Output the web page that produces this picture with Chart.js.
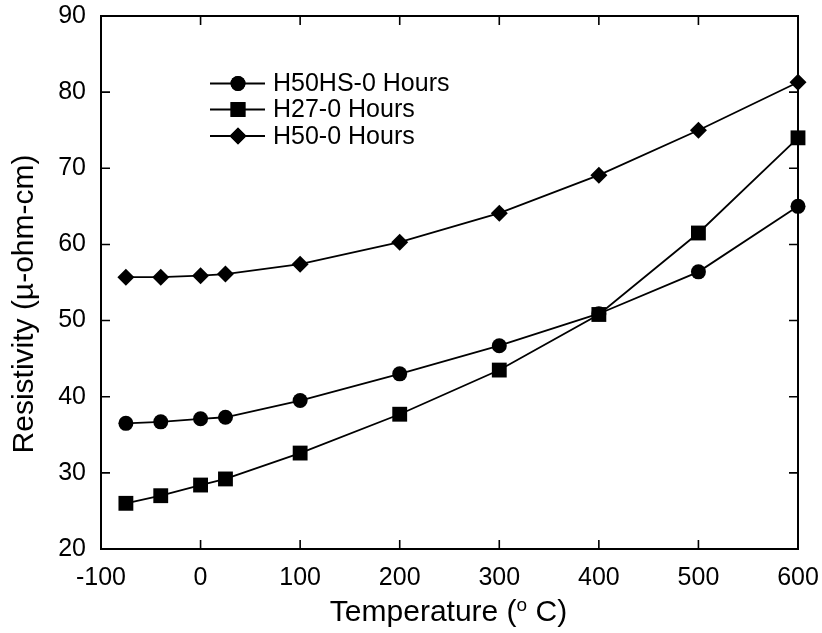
<!DOCTYPE html>
<html>
<head>
<meta charset="utf-8">
<title>Resistivity vs Temperature</title>
<script src="https://cdn.jsdelivr.net/npm/chart.js@4.4.0/dist/chart.umd.min.js"></script>
<style>
  html, body { margin: 0; padding: 0; background: #fff; }
  #wrap { width: 822px; height: 633px; position: relative; }
</style>
</head>
<body>
<div id="wrap"><canvas id="resistivity"></canvas></div>
<script>
// Temperatures (deg C) at which each sample was measured
const temperatures = [-75, -40, 0, 25, 100, 200, 300, 400, 500, 600];

// Resistivity, micro-ohm-cm
const h50hs = [36.5, 36.7, 37.1, 37.3, 39.5, 43.0, 46.7, 50.9, 56.4, 65.0];
const h27 = [26.0, 27.0, 28.4, 29.2, 32.6, 37.7, 43.5, 50.8, 61.5, 74.0];
const h50 = [55.7, 55.7, 55.9, 56.1, 57.4, 60.3, 64.1, 69.1, 75.0, 81.3];

const seriesNames = ['H50HS-0 Hours', 'H27-0 Hours', 'H50-0 Hours'];
const xTicks = [-100, 0, 100, 200, 300, 400, 500, 600];
const yTicks = [20, 30, 40, 50, 60, 70, 80, 90];

(function() {
    'use strict';

    const FONT = "'Liberation Sans', Arial, sans-serif";
    const INK = '#000';
    const TICK_LEN = 9;

    function toPoints(values) {
        return values.map((v, i) => ({ x: temperatures[i], y: v }));
    }

    function series(label, values, style, radius) {
        return {
            label: label,
            data: toPoints(values),
            borderColor: INK,
            backgroundColor: INK,
            borderWidth: 1.8,
            pointStyle: style,
            pointRadius: radius,
            pointBorderWidth: 0,
            pointBackgroundColor: INK,
            tension: 0,
            clip: false
        };
    }

    // frame on all four sides with inward tick marks
    const framePlugin = {
        id: 'frame',
        beforeDatasetsDraw(chart) {
            const { ctx, chartArea: a, scales } = chart;
            ctx.save();
            ctx.strokeStyle = INK;
            ctx.lineWidth = 2;
            ctx.strokeRect(a.left, a.top, a.right - a.left, a.bottom - a.top);
            ctx.lineWidth = 1.6;
            ctx.beginPath();
            xTicks.forEach(t => {
                const px = scales.x.getPixelForValue(t);
                ctx.moveTo(px, a.bottom); ctx.lineTo(px, a.bottom - TICK_LEN);
                ctx.moveTo(px, a.top); ctx.lineTo(px, a.top + TICK_LEN);
            });
            yTicks.forEach(t => {
                const py = scales.y.getPixelForValue(t);
                ctx.moveTo(a.left, py); ctx.lineTo(a.left + TICK_LEN, py);
                ctx.moveTo(a.right, py); ctx.lineTo(a.right - TICK_LEN, py);
            });
            ctx.stroke();
            ctx.restore();
        }
    };

    // axis titles (with the raised "o" in the temperature unit) and the inset legend
    const labelsPlugin = {
        id: 'labels',
        afterDraw(chart) {
            const { ctx } = chart;
            ctx.save();
            ctx.fillStyle = INK;

            // y title
            ctx.save();
            ctx.translate(33, 304);
            ctx.rotate(-Math.PI / 2);
            ctx.font = '30px ' + FONT;
            ctx.textAlign = 'center';
            ctx.textBaseline = 'alphabetic';
            ctx.fillText('Resistivity (\u00b5-ohm-cm)', 0, 0);
            ctx.restore();

            // x title
            const big = '30px ' + FONT, small = '19px ' + FONT;
            const pre = 'Temperature (', sup = 'o', post = ' C)';
            ctx.font = big;
            const wPre = ctx.measureText(pre).width;
            const wPost = ctx.measureText(post).width;
            ctx.font = small;
            const wSup = ctx.measureText(sup).width;
            let x = 448.5 - (wPre + wSup + wPost) / 2;
            const base = 621;
            ctx.textAlign = 'left';
            ctx.textBaseline = 'alphabetic';
            ctx.font = big;
            ctx.fillText(pre, x, base);
            x += wPre;
            ctx.font = small;
            ctx.fillText(sup, x, base - 10);
            x += wSup;
            ctx.font = big;
            ctx.fillText(post, x, base);

            // legend
            const rows = [83.5, 109.5, 136];
            ctx.font = '25px ' + FONT;
            ctx.textBaseline = 'middle';
            chart.data.datasets.forEach((ds, i) => {
                const y = rows[i];
                ctx.strokeStyle = INK;
                ctx.lineWidth = 1.8;
                ctx.beginPath();
                ctx.moveTo(210, y);
                ctx.lineTo(265, y);
                ctx.stroke();
                Chart.helpers.drawPoint(ctx, {
                    pointStyle: ds.pointStyle,
                    radius: ds.pointRadius,
                    borderWidth: 0,
                    rotation: 0
                }, 238, y);
                ctx.fill();
                ctx.fillText(ds.label, 273, y + 1);
            });
            ctx.restore();
        }
    };

    function renderChart(canvasId) {
        const el = document.getElementById(canvasId);
        if (!el || typeof Chart === 'undefined') return;
        const tickFont = { family: FONT, size: 25 };

        new Chart(el, {
            type: 'line',
            data: {
                datasets: [
                    series(seriesNames[0], h50hs, 'circle', 7.5),
                    series(seriesNames[1], h27, 'rect', 10.5),
                    series(seriesNames[2], h50, 'rectRot', 8.5)
                ]
            },
            options: {
                responsive: false,
                animation: false,
                devicePixelRatio: 1,
                layout: { padding: { top: 16, right: 24, left: 0, bottom: 0 } },
                plugins: {
                    legend: { display: false },
                    tooltip: { enabled: false }
                },
                scales: {
                    x: {
                        type: 'linear',
                        min: -100,
                        max: 600,
                        afterBuildTicks: s => { s.ticks = xTicks.map(v => ({ value: v })); },
                        ticks: { color: INK, font: tickFont, padding: 14, maxRotation: 0 },
                        grid: { display: false, drawTicks: false },
                        border: { display: false },
                        afterFit: s => {
                            s.height = 84;
                            s.paddingLeft = 0;
                            s.paddingRight = 0;
                        }
                    },
                    y: {
                        type: 'linear',
                        min: 20,
                        max: 90,
                        afterBuildTicks: s => { s.ticks = yTicks.map(v => ({ value: v })); },
                        ticks: { color: INK, font: tickFont, padding: 15 },
                        grid: { display: false, drawTicks: false },
                        border: { display: false },
                        afterFit: s => {
                            s.width = 101;
                            s.paddingTop = 0;
                            s.paddingBottom = 0;
                        }
                    }
                }
            },
            plugins: [framePlugin, labelsPlugin]
        });
    }

    const c = document.getElementById('resistivity');
    c.width = 822;
    c.height = 633;
    renderChart('resistivity');
})();
</script>
</body>
</html>
